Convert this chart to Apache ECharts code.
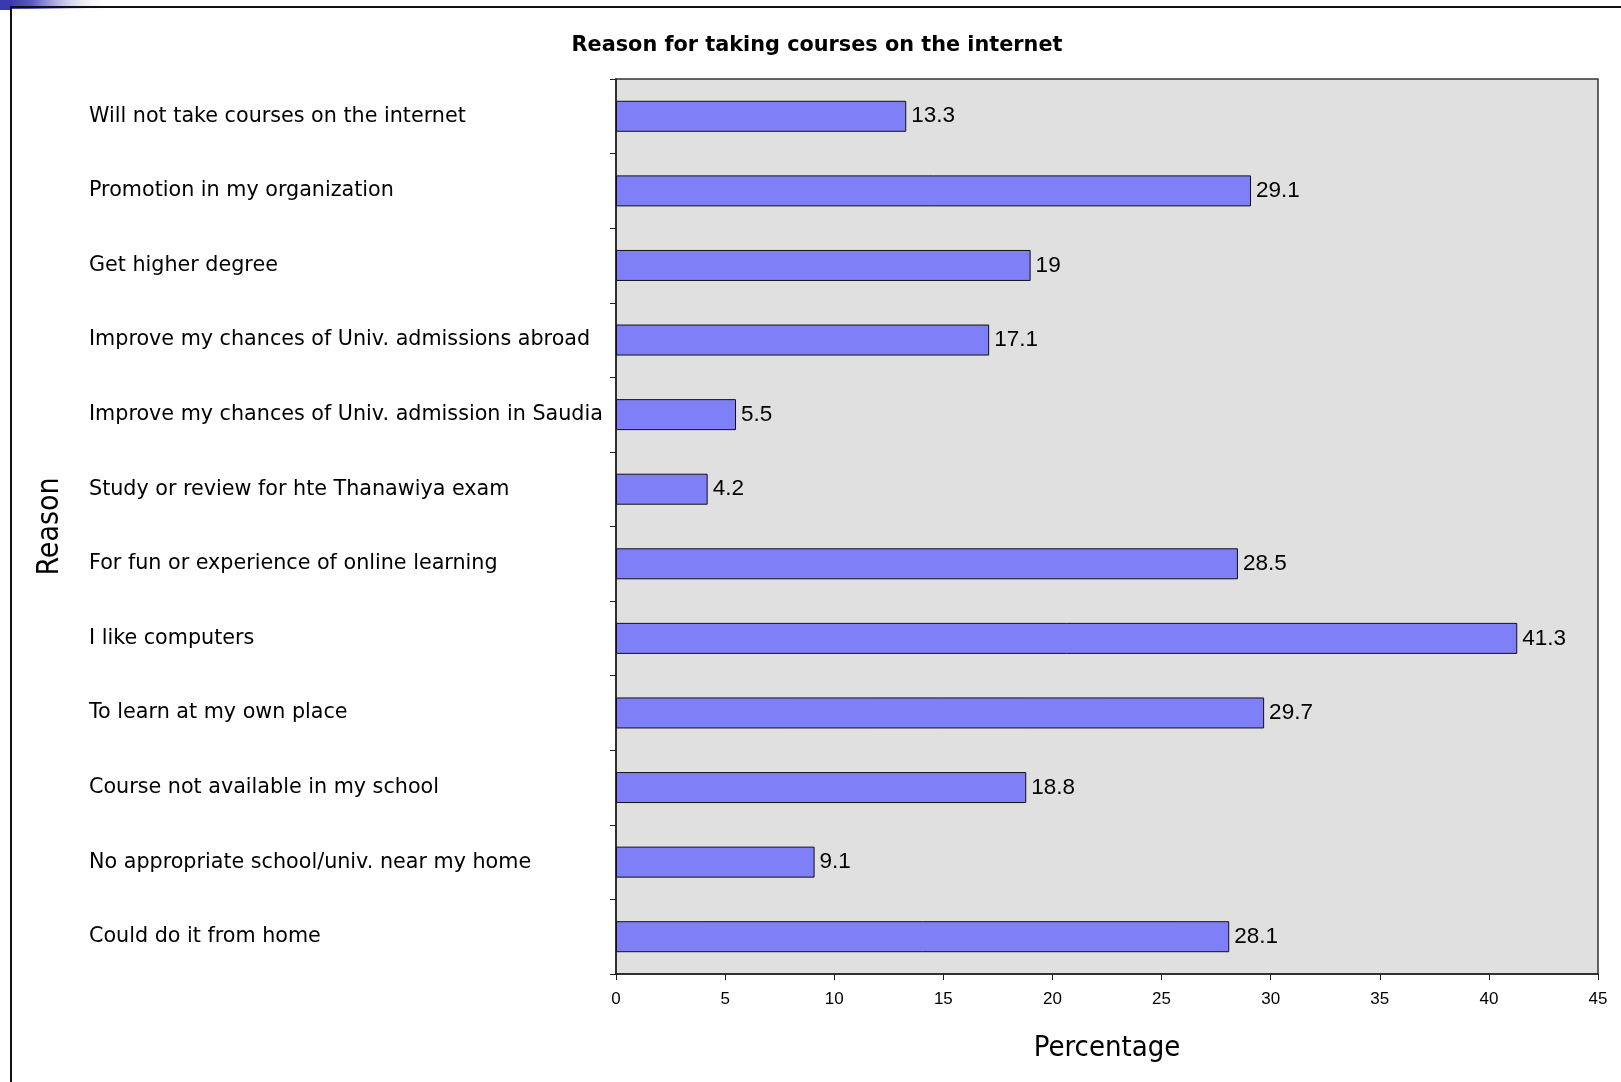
<!DOCTYPE html>
<html>
<head>
<meta charset="utf-8">
<script src="https://cdn.jsdelivr.net/npm/echarts@6/dist/echarts.min.js"></script>
<style>
html,body{margin:0;padding:0;background:#fff;}
#chart{width:1621px;height:1082px;}
</style>
</head>
<body>
<div id="chart"></div>
<script>
const categories = [
  "Will not take courses on the internet",
  "Promotion in my organization",
  "Get higher degree",
  "Improve my chances of Univ. admissions abroad",
  "Improve my chances of Univ. admission in Saudia",
  "Study or review for hte Thanawiya exam",
  "For fun or experience of online learning",
  "I like computers",
  "To learn at my own place",
  "Course not available in my school",
  "No appropriate school/univ. near my home",
  "Could do it from home"
];
const percentages = [13.3, 29.1, 19, 17.1, 5.5, 4.2, 28.5, 41.3, 29.7, 18.8, 9.1, 28.1];
const xTicks = { min: 0, max: 45, interval: 5 };

const narrow = "'Liberation Sans Narrow', 'DejaVu Sans Condensed', 'Liberation Sans', sans-serif";
const chart = echarts.init(document.getElementById('chart'), null, {renderer: 'canvas'});
chart.setOption({
  backgroundColor: '#ffffff',
  animation: false,
  title: {
    text: 'Reason for taking courses on the internet',
    left: 812, top: 30, textAlign: 'center',
    textStyle: { fontFamily: 'DejaVu Sans', fontWeight: 'bold', fontSize: 20.8, color: '#000' }
  },
  graphic: [
    { type: 'rect', shape: { x: 0, y: 0, width: 110, height: 9 },
      style: { fill: new echarts.graphic.LinearGradient(0, 0, 1, 0, [
        { offset: 0, color: '#2a2aa0' }, { offset: 0.3, color: '#5c5cc0' }, { offset: 1, color: 'rgba(255,255,255,0)' }]) } },
    { type: 'rect', shape: { x: 0, y: 0, width: 10, height: 10 }, style: { fill: '#3a3ab0' } },
    { type: 'line', shape: { x1: 10, y1: 7, x2: 1621, y2: 7 }, style: { stroke: '#111', lineWidth: 2 } },
    { type: 'line', shape: { x1: 11, y1: 6, x2: 11, y2: 1082 }, style: { stroke: '#111', lineWidth: 2 } }
  ],
  grid: {
    left: 616, right: 23, top: 79, bottom: 108,
    show: true, backgroundColor: '#e0e0e0', borderColor: '#333', borderWidth: 1.5
  },
  xAxis: {
    type: 'value', min: xTicks.min, max: xTicks.max, interval: xTicks.interval,
    name: 'Percentage', nameLocation: 'middle', nameGap: 60,
    nameTextStyle: { fontFamily: narrow, fontSize: 29, color: '#000' },
    axisLine: { show: true, lineStyle: { color: '#222', width: 1.5 } },
    axisTick: { show: true, length: 6, lineStyle: { color: '#222' } },
    axisLabel: { fontFamily: 'Liberation Sans', fontSize: 17, color: '#000', margin: 17 },
    splitLine: { show: false }
  },
  yAxis: {
    type: 'category', data: categories, inverse: true,
    name: 'Reason', nameLocation: 'middle', nameGap: 551, nameRotate: 90,
    nameTextStyle: { fontFamily: narrow, fontSize: 30, color: '#000' },
    axisLine: { show: true, lineStyle: { color: '#222', width: 1.5 } },
    axisTick: { show: true, length: 6, lineStyle: { color: '#222' } },
    axisLabel: { fontFamily: 'DejaVu Sans', fontSize: 20.7, color: '#000', align: 'left', margin: 527 }
  },
  series: [{
    type: 'bar', data: percentages, barWidth: 31,
    itemStyle: { color: '#7f7ff7', borderColor: '#111', borderWidth: 1 },
    label: { show: true, position: 'right', distance: 5, fontFamily: 'Liberation Sans', fontSize: 22.5, color: '#000' }
  }]
});
</script>
</body>
</html>
